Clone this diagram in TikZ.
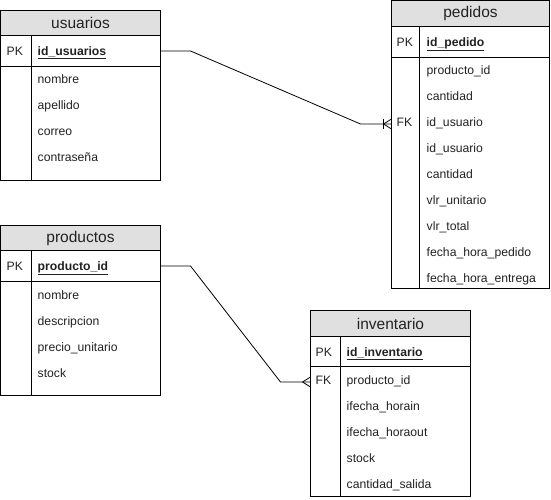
\documentclass[tikz,border=0pt]{standalone}
\usepackage{fontspec}
\setmainfont{Liberation Sans}
\usetikzlibrary{calc}
\definecolor{hdrgray}{HTML}{E0E0E0}
\definecolor{ink}{HTML}{222222}
\begin{document}
\begin{tikzpicture}[x=1pt,y=-1pt,
  tbl/.style={draw=black, line width=1pt, outer sep=0pt, inner sep=0pt},
  hdr/.style={tbl, fill=hdrgray, text=ink, font=\fontsize{15.5}{18}\selectfont},
  field/.style={anchor=mid west, inner sep=0pt, yshift=-2pt, text=ink, font=\fontsize{12.2}{14}\selectfont},
  rel/.style={draw=black, line width=0.8pt},
]
\useasboundingbox (0,0) rectangle (551,500);

% ---------- usuarios ----------
\node[hdr, minimum width=160pt, minimum height=25pt, anchor=north west] (usuarios) at (0.5,10.5) {usuarios};
\node[tbl, minimum width=160pt, minimum height=31pt, anchor=north west] (usuarios-pk) at (usuarios.south west) {};
\node[tbl, minimum width=160pt, minimum height=114pt, anchor=north west] (usuarios-body) at (usuarios-pk.south west) {};
\draw[tbl] ($(usuarios-pk.north west)+(31,0)$) -- ($(usuarios-body.south west)+(31,0)$);
\node[field] (usuarios-pklbl) at ($(usuarios-pk.west)+(6,0)$) {PK};
\node[field] (usuarios-key) at ($(usuarios-pk.west)+(37,0)$) {\underline{\textbf{id\_usuarios}}};
\foreach \t [count=\i from 0] in {nombre,apellido,correo,contraseña}
  \node[field] (usuarios-f\i) at ($(usuarios-body.north west)+(37,12.5+26*\i)$) {\t};

% ---------- pedidos ----------
\node[hdr, minimum width=158pt, minimum height=26pt, anchor=north west] (pedidos) at (391.5,0.5) {pedidos};
\node[tbl, minimum width=158pt, minimum height=31pt, anchor=north west] (pedidos-pk) at (pedidos.south west) {};
\node[tbl, minimum width=158pt, minimum height=231pt, anchor=north west] (pedidos-body) at (pedidos-pk.south west) {};
\draw[tbl] ($(pedidos-pk.north west)+(28,0)$) -- ($(pedidos-body.south west)+(28,0)$);
\node[field] (pedidos-pklbl) at ($(pedidos-pk.west)+(5,0)$) {PK};
\node[field] (pedidos-key) at ($(pedidos-pk.west)+(35,0)$) {\underline{\textbf{id\_pedido}}};
\foreach \t [count=\i from 0] in {producto\_id,cantidad,id\_usuario,id\_usuario,cantidad,vlr\_unitario,vlr\_total,fecha\_hora\_pedido,fecha\_hora\_entrega}
  \node[field] (pedidos-f\i) at ($(pedidos-body.north west)+(35,12.5+26*\i)$) {\t};
\node[field] (pedidos-fk) at ($(pedidos-body.north west)+(5,12.5+26*2)$) {FK};

% ---------- productos ----------
\node[hdr, minimum width=160pt, minimum height=25pt, anchor=north west] (productos) at (0.5,225.5) {productos};
\node[tbl, minimum width=160pt, minimum height=31pt, anchor=north west] (productos-pk) at (productos.south west) {};
\node[tbl, minimum width=160pt, minimum height=114pt, anchor=north west] (productos-body) at (productos-pk.south west) {};
\draw[tbl] ($(productos-pk.north west)+(31,0)$) -- ($(productos-body.south west)+(31,0)$);
\node[field] (productos-pklbl) at ($(productos-pk.west)+(6,0)$) {PK};
\node[field] (productos-key) at ($(productos-pk.west)+(37,0)$) {\underline{\textbf{producto\_id}}};
\foreach \t [count=\i from 0] in {nombre,descripcion,precio\_unitario,stock}
  \node[field] (productos-f\i) at ($(productos-body.north west)+(37,13+26*\i)$) {\t};

% ---------- inventario ----------
\node[hdr, minimum width=160pt, minimum height=26pt, anchor=north west] (inventario) at (310.5,310.5) {inventario};
\node[tbl, minimum width=160pt, minimum height=30pt, anchor=north west] (inventario-pk) at (inventario.south west) {};
\node[tbl, minimum width=160pt, minimum height=130pt, anchor=north west] (inventario-body) at (inventario-pk.south west) {};
\draw[tbl] ($(inventario-pk.north west)+(30,0)$) -- ($(inventario-body.south west)+(30,0)$);
\node[field] (inventario-pklbl) at ($(inventario-pk.west)+(5,0)$) {PK};
\node[field] (inventario-key) at ($(inventario-pk.west)+(36,0)$) {\underline{\textbf{id\_inventario}}};
\foreach \t [count=\i from 0] in {producto\_id,ifecha\_horain,ifecha\_horaout,stock,cantidad\_salida}
  \node[field] (inventario-f\i) at ($(inventario-body.north west)+(36,13.5+26*\i)$) {\t};
\node[field] (inventario-fk) at ($(inventario-body.north west)+(5,13.5)$) {FK};

% ---------- relationships ----------
% usuarios 1 -- N pedidos (one-or-many end)
\coordinate (ped-end) at (pedidos-body.west |- pedidos-fk.mid);
\draw[rel] (usuarios-pk.east) -- ++(30,0) -- ($(ped-end)+(-31,0)$) -- (ped-end);
\draw[rel] ($(ped-end)+(-8,-5)$) -- ++(0,10);
\draw[rel] ($(ped-end)+(-8,0)$) -- ($(ped-end)+(0,-5)$);
\draw[rel] ($(ped-end)+(-8,0)$) -- ($(ped-end)+(0,5)$);

% productos 1 -- N inventario (many end)
\coordinate (inv-end) at (inventario-body.west |- inventario-fk.mid);
\draw[rel] (productos-pk.east) -- ++(30,0) -- ($(inv-end)+(-30,0)$) -- (inv-end);
\draw[rel] ($(inv-end)+(-8,0)$) -- ($(inv-end)+(0,-5)$);
\draw[rel] ($(inv-end)+(-8,0)$) -- ($(inv-end)+(0,5)$);
\end{tikzpicture}
\end{document}
